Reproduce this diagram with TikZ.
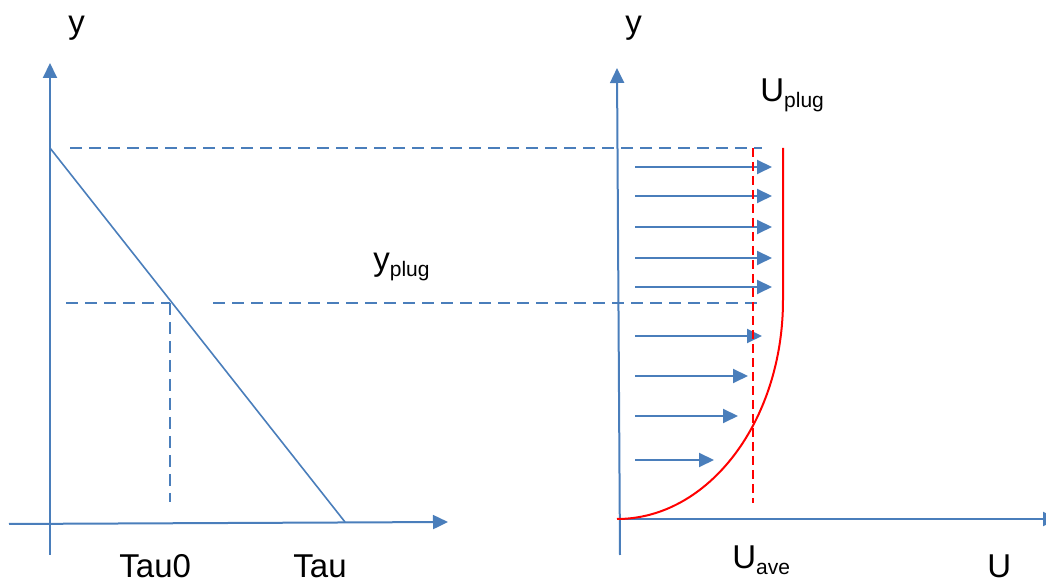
\documentclass[tikz,border=0pt]{standalone}
\usepackage{fontspec}
\setmainfont{Liberation Sans}
\usetikzlibrary{arrows.meta}
\definecolor{plotblue}{RGB}{74,126,187}
\newcommand{\lowsub}[1]{\raisebox{-3pt}{\fontsize{10.5}{12}\selectfont #1}}

\begin{document}
\begin{tikzpicture}[x=0.5pt, y=-0.5pt,
    every node/.style={font=\fontsize{16.5}{20}\selectfont, inner sep=0pt, anchor=base west},
    axis/.style={draw=plotblue, line width=1pt, -{Triangle[length=7.5pt,width=7pt]}},
    guide/.style={draw=plotblue, line width=0.75pt, dash pattern=on 6pt off 3.5pt},
    velarrow/.style={draw=plotblue, line width=1pt, -{Triangle[length=7.5pt,width=7pt]}},
    profile/.style={draw=red, line width=1pt}]
    \useasboundingbox (0,0) rectangle (1046,582);

    % shear stress plot
    \coordinate (tauorigin) at (50,524);
    \coordinate (taulow) at (50,555);
    \coordinate (tautop) at (50,63);
    \coordinate (tauleft) at (9,524);
    \coordinate (tauright) at (448,522);
    \coordinate (wall) at (50,148);
    \coordinate (tauend) at (345,522);
    \coordinate (yield) at (170,303);
    \draw[axis] (taulow) -- (tautop);
    \draw[axis] (tauleft) -- (tauright);
    \draw[draw=plotblue, line width=0.8pt] (wall) -- (tauend);
    \draw[guide] (70,148) -- (762,148);
    \draw[guide] (66,303) -- (yield);
    \draw[guide] (213,303) -- (762,303);
    \draw[guide] (yield) -- (170,502);

    \node (ytau) at (68,34) {y};
    \node (yplug) at (373,271) {y\lowsub{plug}};
    \node (tauzero) at (119,578) {Tau0};
    \node (tau) at (293,578) {Tau};

    % velocity profile
    \coordinate (ulow) at (620,555);
    \coordinate (utop) at (617,68);
    \coordinate (uorigin) at (617,519);
    \coordinate (uright) at (1058,519);
    \draw[axis] (ulow) -- (utop);
    \draw[axis] (uorigin) -- (uright);
    \foreach \yy/\tip in {167/772, 196/772, 227/772, 258/772, 287/772, 336/762, 376/748, 416/738, 460/714}
        \draw[velarrow] (635,\yy) -- (\tip,\yy);
    \draw[profile, dash pattern=on 4.5pt off 2.5pt] (753,148) -- (753,503);
    \draw[profile] (783,148) -- (783,300) arc[start angle=0, end angle=-90, x radius=83pt, y radius=109.5pt];

    \node (yvel) at (625,34) {y};
    \node (uplug) at (760,102) {U\lowsub{plug}};
    \node (uave) at (732,569) {U\lowsub{ave}};
    \node (ulab) at (987,578) {U};
\end{tikzpicture}
\end{document}
